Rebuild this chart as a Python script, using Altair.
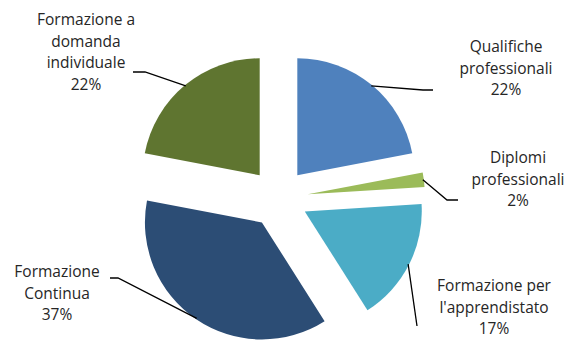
import math
import altair as alt
import pandas as pd

# ---- data ----
categories = ["Qualifiche professionali", "Diplomi professionali",
              "Formazione per l'apprendistato", "Formazione Continua",
              "Formazione a domanda individuale"]
label_lines = ["Qualifiche\nprofessionali", "Diplomi\nprofessionali",
               "Formazione per\nl'apprendistato", "Formazione\nContinua",
               "Formazione a\ndomanda\nindividuale"]
shares = [22, 2, 17, 37, 22]
colors = ["#4F81BD", "#9BBB59", "#4BACC6", "#2C4D75", "#5F7530"]

# ---- layout (chart pixel space) ----
W, H = 557, 332
CX, CY = 270.5, 190.0
R = 117
EXPLODE = 29.5
# centre of the first text line of each label
label_xy = [(498, 39), (510, 150), (486, 278), (49, 264), (78, 12)]
leader_tail = [[(415, 82), (425, 82)],
               [(439, 192), (450, 192)],
               [(409, 318)],
               [(110, 270), (102, 270)],
               [(137, 64), (125, 64)]]

total = sum(shares)

slices = pd.DataFrame({"cat": categories, "value": shares, "ord": range(len(shares))})

# labels
lab = pd.DataFrame({
    "cat": categories,
    "txt": [f"{l}\n{v}%" for l, v in zip(label_lines, shares)],
    "lx": [p[0] for p in label_xy],
    "ly": [p[1] for p in label_xy],
})

# leader lines: start on outer edge of exploded slice at its mid angle
rows = []
cum = 0
for i, (c, v) in enumerate(zip(categories, shares)):
    mid = 2 * math.pi * (cum + v / 2) / total
    cum += v
    sx = CX + (EXPLODE + R - 1) * math.sin(mid)
    sy = CY - (EXPLODE + R - 1) * math.cos(mid)
    pts = [(sx, sy)] + leader_tail[i]
    for j, (px, py) in enumerate(pts):
        rows.append({"cat": c, "seq": j, "px": px, "py": py})
lead = pd.DataFrame(rows)

color_scale = alt.Scale(domain=categories, range=colors)

pie = alt.Chart(slices).transform_window(
    cum="sum(value)", sort=[alt.SortField("ord")], frame=[None, 0]
).transform_calculate(
    t0="datum.cum - datum.value",
    mid=f"2*PI*(datum.cum - datum.value/2)/{total}",
).transform_calculate(
    cx=f"{CX} + {EXPLODE}*sin(datum.mid)",
    cy=f"{CY} - {EXPLODE}*cos(datum.mid)",
).mark_arc(radius=R).encode(
    theta=alt.Theta("t0:Q", scale=alt.Scale(domain=[0, total]), stack=None),
    theta2="cum:Q",
    x=alt.X("cx:Q", scale=None, axis=None),
    y=alt.Y("cy:Q", scale=None, axis=None),
    color=alt.Color("cat:N", scale=color_scale, legend=None),
)

lines = alt.Chart(lead).mark_line(color="#000000", strokeWidth=1.3).encode(
    x=alt.X("px:Q", scale=None, axis=None),
    y=alt.Y("py:Q", scale=None, axis=None),
    detail="cat:N",
    order="seq:Q",
)

texts = alt.Chart(lab).mark_text(
    lineBreak="\n", font="Open Sans", fontSize=15.5, lineHeight=21.5,
    align="center", baseline="middle", color="#262626",
).encode(
    x=alt.X("lx:Q", scale=None, axis=None),
    y=alt.Y("ly:Q", scale=None, axis=None),
    text="txt:N",
)

chart = alt.layer(pie, lines, texts).properties(
    width=W, height=H, autosize=alt.AutoSizeParams(type="none"), padding=0,
).configure_view(stroke=None)

chart.save("out.html", embed_options={"renderer": "svg", "actions": False})
